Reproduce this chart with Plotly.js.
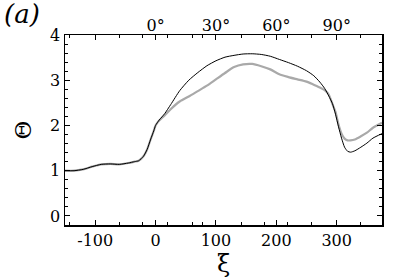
<!DOCTYPE html>
<html>
<head>
<meta charset="utf-8">
<script src="https://cdn.plot.ly/plotly-3.0.1.min.js"></script>
<style>
  html, body { margin: 0; padding: 0; background: #fff; }
  #plot { width: 399px; height: 279px; }
</style>
</head>
<body>
<div id="plot"></div>
<script>
// ξ grid shared by both curves
const xi = [-150, -135, -120, -105, -90, -75, -60, -45, -35, -28, -20, -14, -8, -3, 0,
    6, 15, 25, 40, 55, 70, 85, 100, 115, 130, 145, 160, 175, 190, 205, 220, 235, 250,
    262, 272, 280, 287, 293, 298, 303, 308, 313, 318, 323, 330, 340, 350, 360, 375];

const thetaBlack = [1.00, 1.00, 1.03, 1.09, 1.14, 1.15, 1.14, 1.17, 1.20, 1.22, 1.32, 1.47, 1.70, 1.88, 2.00,
    2.12, 2.26, 2.46, 2.77, 3.00, 3.17, 3.32, 3.43, 3.51, 3.55, 3.58, 3.585, 3.57, 3.53, 3.46, 3.39, 3.31, 3.21,
    3.10, 2.96, 2.82, 2.65, 2.48, 2.25, 1.97, 1.72, 1.52, 1.43, 1.41, 1.44, 1.52, 1.61, 1.72, 1.82];

const thetaGray = [1.00, 1.00, 1.03, 1.09, 1.14, 1.15, 1.14, 1.17, 1.20, 1.22, 1.32, 1.47, 1.70, 1.88, 2.00,
    2.11, 2.22, 2.36, 2.53, 2.64, 2.76, 2.88, 3.02, 3.16, 3.29, 3.35, 3.36, 3.31, 3.24, 3.13, 3.07, 3.02, 2.97,
    2.90, 2.84, 2.78, 2.68, 2.47, 2.30, 2.02, 1.82, 1.71, 1.67, 1.67, 1.69, 1.76, 1.84, 1.95, 2.06];

// bottom axis labels
const xiTicks = [-100, 0, 100, 200, 300];
const xiLabels = ['-100', '0', '100', '200', '300'];

// top axis: angle labels
const angleTicks = [0, 100, 200, 300];
const angleLabels = ['0°', '30°', '60°', '90°'];

// irregular minor ticks along ξ
const xiMinor = [-142, -60, -21, 20, 61, 78, 142, 180, 218, 259, 340];

const serif = 'DejaVu Serif';

const traceGray = {
    x: xi,
    y: thetaGray,
    type: 'scatter',
    mode: 'lines',
    line: { color: '#a9a9a9', width: 2.2, shape: 'spline', smoothing: 0.6 },
    hoverinfo: 'skip'
};

const traceBlack = {
    x: xi,
    y: thetaBlack,
    type: 'scatter',
    mode: 'lines',
    line: { color: '#000000', width: 1, shape: 'spline', smoothing: 0.6 },
    hoverinfo: 'skip'
};

// invisible trace to activate the top axis
const traceTop = {
    x: [-150, 375],
    y: [0, 0],
    xaxis: 'x2',
    type: 'scatter',
    mode: 'lines',
    line: { width: 0 },
    showlegend: false,
    hoverinfo: 'skip'
};

const layout = {
    width: 399,
    height: 279,
    margin: { l: 65, r: 17, t: 35, b: 54 },
    showlegend: false,
    paper_bgcolor: '#fff',
    plot_bgcolor: '#fff',
    font: { family: serif, size: 16, color: '#000' },
    xaxis: {
        range: [-150, 375],
        tickmode: 'array',
        tickvals: xiTicks,
        ticktext: xiLabels,
        ticks: 'inside',
        ticklen: 5,
        tickwidth: 1,
        tickcolor: '#000',
        showline: true,
        linecolor: '#000',
        linewidth: 1.5,
        mirror: 'ticks',
        showgrid: false,
        zeroline: false,
        minor: { tickmode: 'array', tickvals: xiMinor, ticks: 'inside', ticklen: 3, tickcolor: '#000', showgrid: false },
        tickfont: { family: serif, size: 16 },
        title: { text: 'ξ', font: { family: serif, size: 24 }, standoff: 0 }
    },
    xaxis2: {
        overlaying: 'x',
        side: 'top',
        range: [-150, 375],
        tickmode: 'array',
        tickvals: angleTicks,
        ticktext: angleLabels,
        ticks: '',
        showline: false,
        showgrid: false,
        zeroline: false,
        tickfont: { family: serif, size: 16 }
    },
    yaxis: {
        range: [-0.2, 4],
        tickvals: [0, 1, 2, 3, 4],
        ticks: 'inside',
        ticklen: 5,
        tickwidth: 1,
        tickcolor: '#000',
        showline: true,
        linecolor: '#000',
        linewidth: 1.5,
        mirror: 'ticks',
        showgrid: false,
        zeroline: false,
        minor: { dtick: 0.2, ticks: 'inside', ticklen: 3, tickcolor: '#000', showgrid: false },
        tickfont: { family: serif, size: 16 },
        title: { text: 'Θ', font: { family: serif, size: 23 }, standoff: 12 }
    },
    annotations: [{
        text: '<i>(a)</i>',
        xref: 'paper', yref: 'paper',
        x: -0.2, y: 1.2,
        xanchor: 'left', yanchor: 'top',
        showarrow: false,
        font: { family: serif, size: 26 }
    }]
};

Plotly.newPlot('plot', [traceGray, traceBlack, traceTop], layout, { displayModeBar: false, staticPlot: true });
</script>
</body>
</html>
